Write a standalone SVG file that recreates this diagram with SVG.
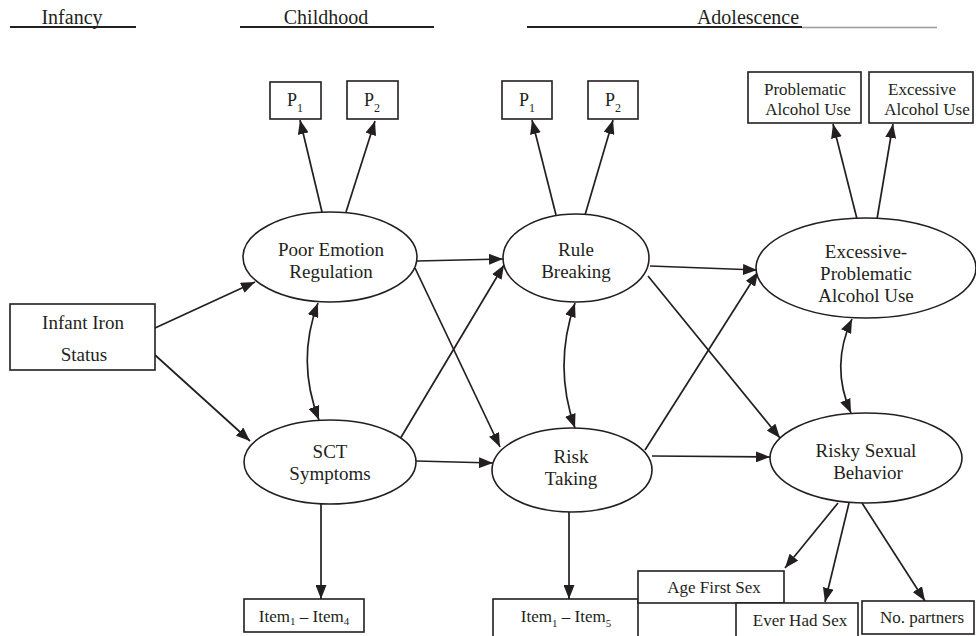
<svg xmlns="http://www.w3.org/2000/svg" width="976" height="636" viewBox="0 0 976 636" font-family="'Liberation Serif', 'Times New Roman', serif">
<style>
  text { font-family: "Liberation Serif", "Times New Roman", serif; fill: #231f20; }
  .hdr { font-size: 20px; text-anchor: middle; }
  .lbl { font-size: 19px; text-anchor: middle; }
  .sm { font-size: 17px; text-anchor: middle; }
  .p { font-size: 18px; text-anchor: middle; }
  .node { fill: #ffffff; stroke: #231f20; stroke-width: 1.6; }
  .edge { fill: none; stroke: #231f20; stroke-width: 1.7; marker-end: url(#arr); }
  .bi { fill: none; stroke: #231f20; stroke-width: 1.7; marker-start: url(#arr); marker-end: url(#arr); }
  .ul { stroke: #231f20; stroke-width: 2.2; }
</style>
<defs>
  <marker id="arr" markerUnits="userSpaceOnUse" markerWidth="14" markerHeight="11" refX="14" refY="5.5" orient="auto-start-reverse">
    <path d="M0,0 L14,5.5 L0,11 z" fill="#231f20"/>
  </marker>
</defs>
<rect width="976" height="636" fill="#ffffff"/>

<g id="header">
  <text class="hdr" x="72" y="24">Infancy</text>
  <line class="ul" x1="10" y1="27" x2="136" y2="27"/>
  <text class="hdr" x="326" y="24">Childhood</text>
  <line class="ul" x1="240" y1="27" x2="434" y2="27"/>
  <text class="hdr" x="748" y="24">Adolescence</text>
  <line class="ul" x1="527" y1="27" x2="802" y2="27"/>
  <line x1="802" y1="27.5" x2="937" y2="27.5" stroke="#9a9a9a" stroke-width="1.6"/>
</g>

<g id="connectors">
  <line class="edge" x1="155" y1="328" x2="255" y2="282"/>
  <line class="edge" x1="155" y1="355" x2="250" y2="441"/>
  <line class="edge" x1="322" y1="212" x2="300" y2="120"/>
  <line class="edge" x1="346" y1="212" x2="375" y2="121"/>
  <line class="edge" x1="556" y1="215" x2="532" y2="120"/>
  <line class="edge" x1="585" y1="215" x2="613" y2="120"/>
  <line class="edge" x1="857" y1="219" x2="833" y2="124"/>
  <line class="edge" x1="877" y1="219" x2="893" y2="124"/>
  <line class="edge" x1="417" y1="261" x2="503" y2="259"/>
  <line class="edge" x1="415" y1="268" x2="500" y2="447"/>
  <line class="edge" x1="400" y1="439" x2="504" y2="265"/>
  <line class="edge" x1="416" y1="461" x2="493" y2="463"/>
  <line class="edge" x1="650" y1="266" x2="757" y2="270"/>
  <line class="edge" x1="648" y1="276" x2="780" y2="438"/>
  <line class="edge" x1="645" y1="450" x2="758" y2="272"/>
  <line class="edge" x1="652" y1="456" x2="770" y2="457"/>
  <line class="edge" x1="321" y1="504" x2="321" y2="599"/>
  <line class="edge" x1="569" y1="512" x2="569" y2="599"/>
  <line class="edge" x1="838" y1="503" x2="785" y2="568"/>
  <line class="edge" x1="849" y1="503" x2="825" y2="602"/>
  <line class="edge" x1="862" y1="503" x2="925" y2="601"/>
  <path class="bi" d="M318,303 Q296,361 319,420"/>
  <path class="bi" d="M575,303 Q553,366 575,428"/>
  <path class="bi" d="M852,319 Q830,366 851,413"/>
</g>

<g id="infant">
  <rect class="node" x="10" y="304" width="145" height="66"/>
  <text class="lbl" x="83" y="329">Infant Iron</text>
  <text class="lbl" x="84" y="361">Status</text>
</g>

<g id="per">
  <ellipse class="node" cx="330" cy="257" rx="87" ry="45"/>
  <text class="lbl" x="331" y="256">Poor Emotion</text>
  <text class="lbl" x="331" y="278">Regulation</text>
</g>

<g id="sct">
  <ellipse class="node" cx="330" cy="462" rx="86" ry="42"/>
  <text class="lbl" x="330" y="458">SCT</text>
  <text class="lbl" x="330" y="480">Symptoms</text>
</g>

<g id="rb">
  <ellipse class="node" cx="576" cy="258" rx="73" ry="44"/>
  <text class="lbl" x="576" y="256">Rule</text>
  <text class="lbl" x="576" y="278">Breaking</text>
</g>

<g id="rt">
  <ellipse class="node" cx="572" cy="470" rx="80" ry="42"/>
  <text class="lbl" x="571" y="463">Risk</text>
  <text class="lbl" x="571" y="485">Taking</text>
</g>

<g id="epau">
  <ellipse class="node" cx="866" cy="268" rx="110" ry="50"/>
  <text class="lbl" x="866" y="258">Excessive-</text>
  <text class="lbl" x="866" y="280">Problematic</text>
  <text class="lbl" x="866" y="302">Alcohol Use</text>
</g>

<g id="rsb">
  <ellipse class="node" cx="866" cy="458" rx="96" ry="45"/>
  <text class="lbl" x="866" y="457">Risky Sexual</text>
  <text class="lbl" x="868" y="479">Behavior</text>
</g>

<g id="p1-child">
  <rect class="node" x="270" y="82" width="51" height="37"/>
  <text class="p" x="295" y="106">P<tspan font-size="12" dy="6">1</tspan></text>
</g>
<g id="p2-child">
  <rect class="node" x="347" y="81" width="51" height="38"/>
  <text class="p" x="372" y="106">P<tspan font-size="12" dy="6">2</tspan></text>
</g>
<g id="p1-adol">
  <rect class="node" x="502" y="81" width="50" height="38"/>
  <text class="p" x="527" y="106">P<tspan font-size="12" dy="6">1</tspan></text>
</g>
<g id="p2-adol">
  <rect class="node" x="588" y="81" width="50" height="38"/>
  <text class="p" x="613" y="106">P<tspan font-size="12" dy="6">2</tspan></text>
</g>

<g id="problematic">
  <rect class="node" x="748" y="72" width="113" height="51"/>
  <text class="sm" x="805" y="95">Problematic</text>
  <text class="sm" x="808" y="115">Alcohol Use</text>
</g>
<g id="excessive">
  <rect class="node" x="869" y="72" width="104" height="51"/>
  <text class="sm" x="922" y="95">Excessive</text>
  <text class="sm" x="927" y="115">Alcohol Use</text>
</g>

<g id="items4">
  <rect class="node" x="244" y="599" width="120" height="33"/>
  <text class="sm" x="304" y="622">Item<tspan font-size="11" dy="3">1</tspan><tspan dy="-3"> – Item</tspan><tspan font-size="11" dy="3">4</tspan></text>
</g>
<g id="items5">
  <rect class="node" x="493" y="599" width="145" height="40"/>
  <text class="sm" x="566" y="622">Item<tspan font-size="11" dy="5">1</tspan><tspan dy="-5"> – Item</tspan><tspan font-size="11" dy="5">5</tspan></text>
</g>

<g id="agefirst">
  <rect class="node" x="638" y="571" width="146" height="32"/>
  <text class="sm" x="714" y="593">Age First Sex</text>
</g>
<g id="everhad">
  <rect class="node" x="736" y="603" width="122" height="36"/>
  <text class="sm" x="800" y="626">Ever Had Sex</text>
</g>
<g id="nopartners">
  <rect class="node" x="862" y="601" width="112" height="33"/>
  <text class="sm" x="922" y="623">No. partners</text>
</g>
</svg>
